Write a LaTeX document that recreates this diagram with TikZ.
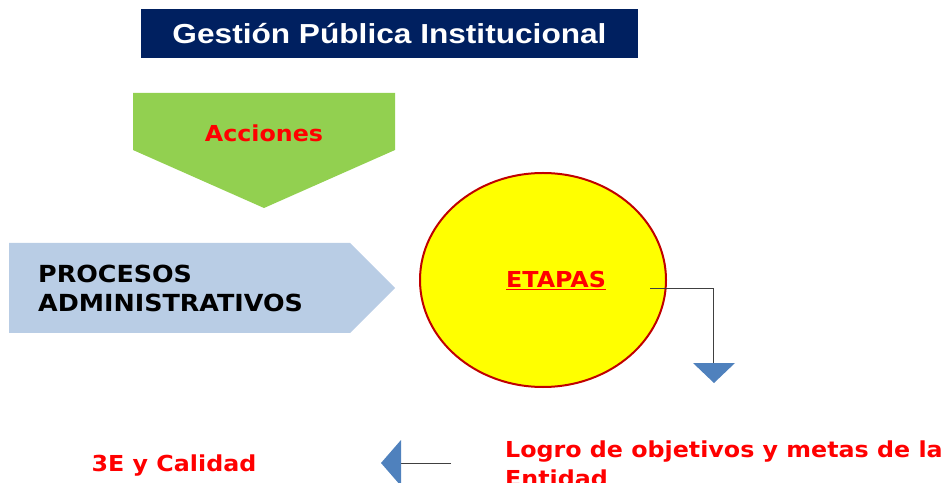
\documentclass[tikz,border=0pt]{standalone}
\usepackage{fontspec}
\setmainfont{DejaVu Sans}[FakeStretch=1.08]
\newfontfamily\titlefont{Liberation Sans}[FakeStretch=1.15]
\usetikzlibrary{shapes.geometric}
\definecolor{navy}{RGB}{0,32,96}
\definecolor{leafgreen}{RGB}{146,208,80}
\definecolor{paleblue}{RGB}{185,205,229}
\definecolor{darkred}{RGB}{192,0,0}
\definecolor{steelblue}{RGB}{79,129,189}
\definecolor{linegray}{RGB}{64,64,64}
\definecolor{brightyellow}{RGB}{255,255,0}
\tikzset{
  redtext/.style={text=red, font=\bfseries\fontsize{22bp}{29bp}\selectfont, inner sep=0pt},
  blacktext/.style={text=black, font=\bfseries\fontsize{23.5bp}{29bp}\selectfont, inner sep=0pt, align=left},
  connector/.style={draw=linegray, line width=0.9bp},
  tipshape/.style={fill=steelblue, draw=none}
}
\begin{document}
\begin{tikzpicture}[x=1bp, y=-1bp]
\useasboundingbox (0,0) rectangle (944,483);
\clip (0,0) rectangle (944,483);
% title
\node[fill=navy, minimum width=497bp, minimum height=49bp, inner sep=0pt, text=white,
  font=\titlefont\bfseries\fontsize{27.5bp}{30bp}\selectfont] (title) at (389.5,33.5) {Gestión Pública Institucional};
% green pentagon
\fill[leafgreen] (133,93) -- (395,93) -- (395,150) -- (264,208) -- (133,150) -- cycle;
\node[redtext] (acciones) at (264,133) {Acciones};
% blue arrow
\fill[paleblue] (9,243) -- (350,243) -- (395,288) -- (350,333) -- (9,333) -- cycle;
\node[blacktext, anchor=west] (procesos) at (38,288) {PROCESOS\\ADMINISTRATIVOS};
% ellipse
\node[ellipse, fill=brightyellow, draw=darkred, line width=2bp, minimum width=246bp, minimum height=214bp, inner sep=0pt] (etapas) at (543,280) {};
\node[redtext] (etapastext) at (556,280) {\underline{ETAPAS}};
% connector down
\coordinate (c1) at (650,288);
\coordinate (c2) at (713.5,288);
\coordinate (c3) at (713.5,363);
\draw[connector] (c1) -- (c2) -- (c3);
\fill[tipshape] (693,363) -- (735,363) -- (714,383) -- cycle;
% bottom
\node[redtext, anchor=west, align=left] (logro) at (505,463.5) {Logro de objetivos y metas de la\\Entidad};
\coordinate (b1) at (451,463);
\coordinate (b2) at (401,463);
\draw[connector] (b1) -- (b2);
\fill[tipshape] (401,440) -- (401,486) -- (381,463) -- cycle;
\node[redtext] (calidad) at (174,466) {3E y Calidad};
\end{tikzpicture}
\end{document}
